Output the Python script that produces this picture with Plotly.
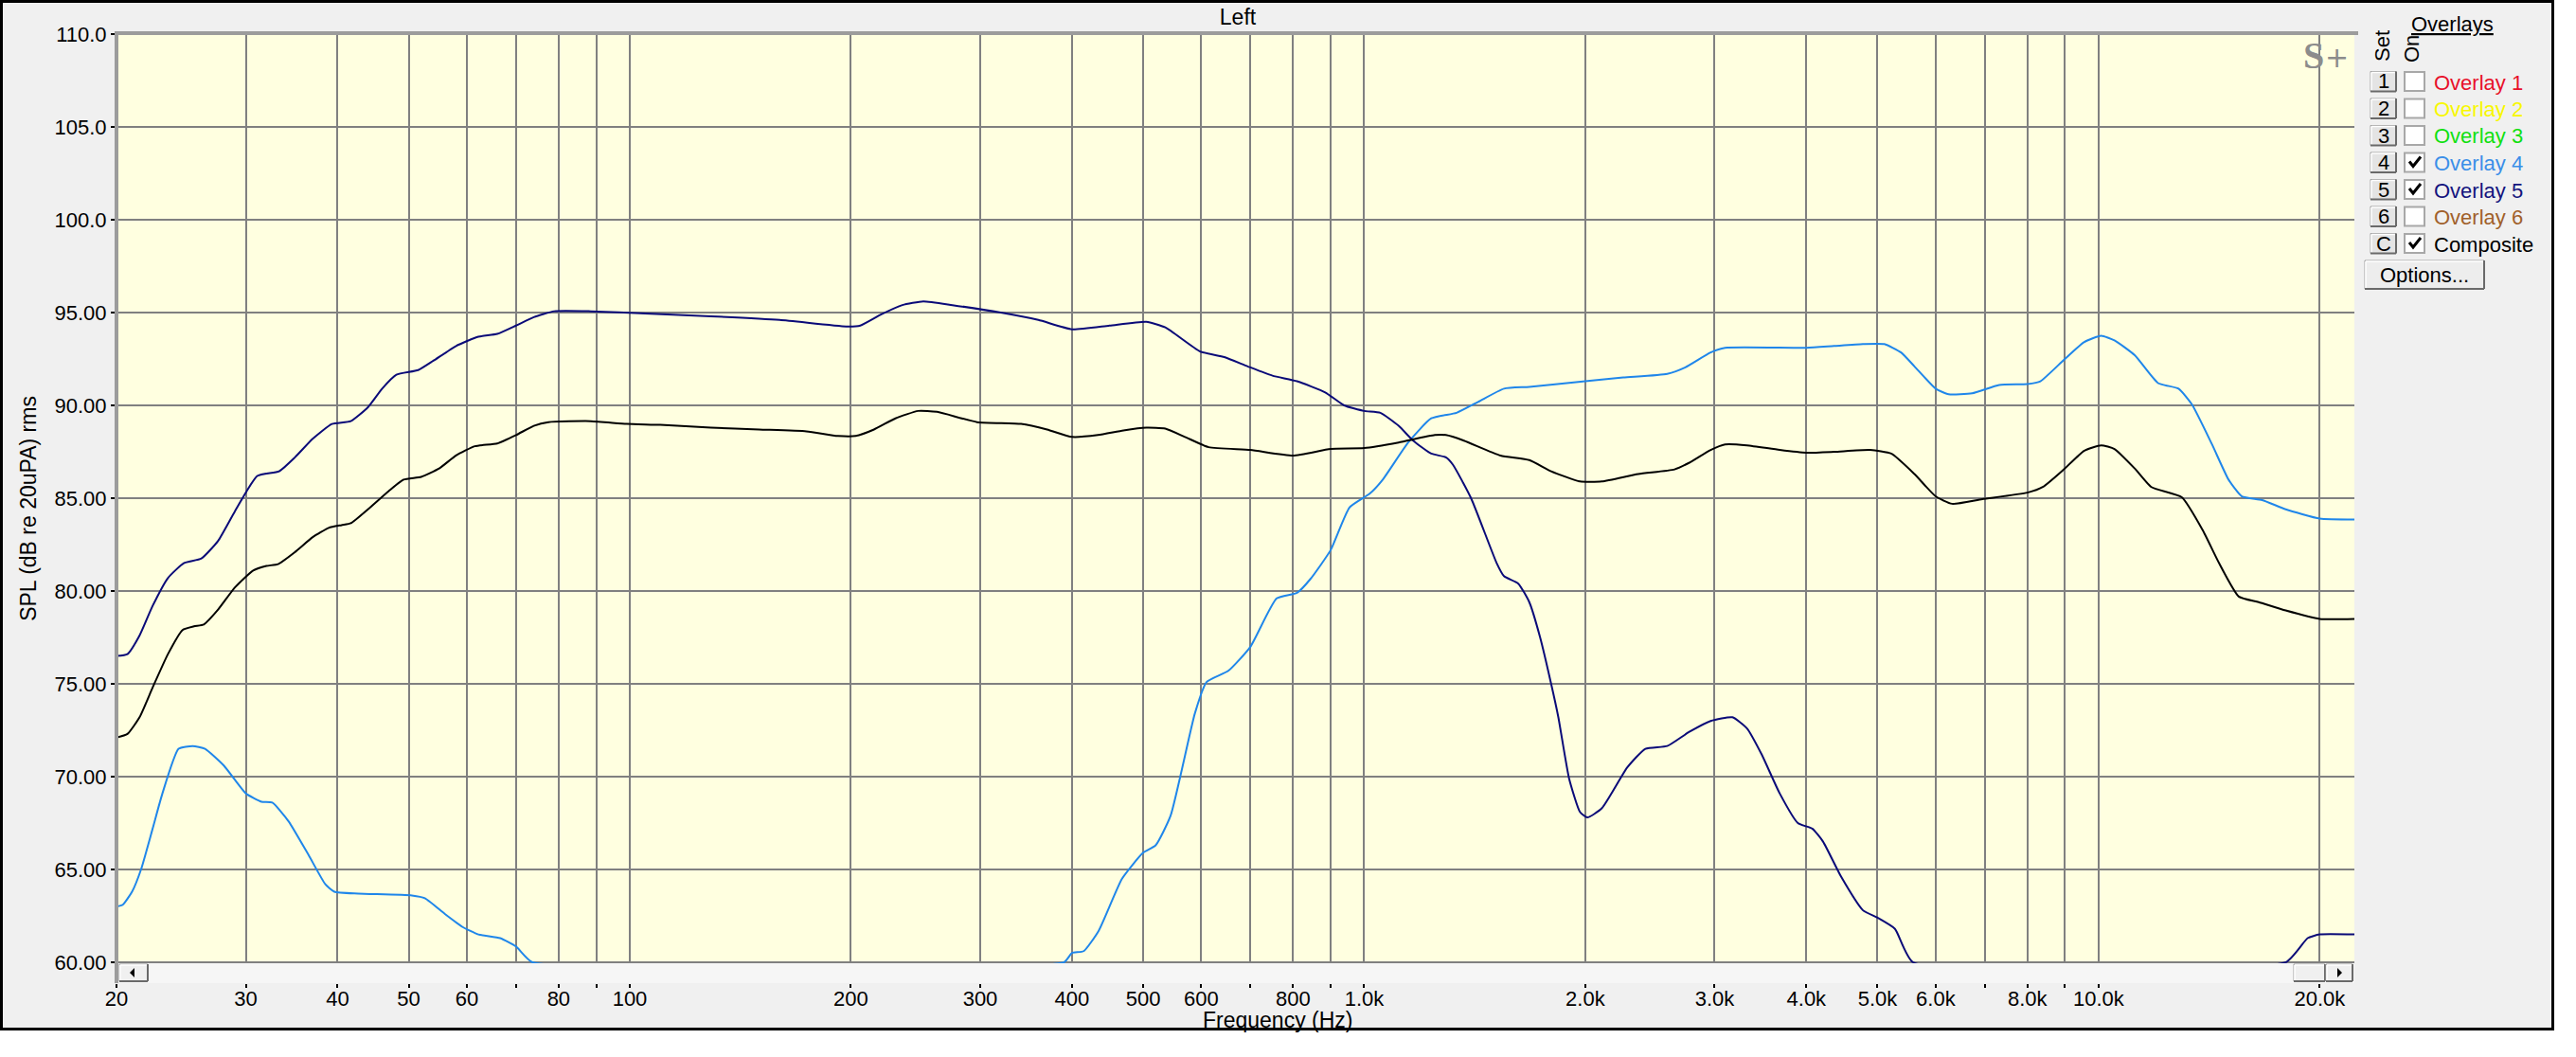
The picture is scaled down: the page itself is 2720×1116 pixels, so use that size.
import math
import plotly.graph_objects as go

# ---------------- data ----------------
composite_freq = [20, 20.7, 21.5, 22.4, 23.5, 24.6, 25.5, 26.3, 27.5, 29, 30.7, 32, 33.2, 35, 37, 38.9,
                  40.5, 41.7, 44, 47, 49.2, 52, 55, 58, 61.5, 66, 70, 74, 77.5, 88.5, 99, 110, 129,
                  150, 174, 192, 203, 215, 230, 247, 262, 297, 341, 370, 400, 434, 470, 505, 536,
                  570, 614, 700, 800, 900, 1000, 1114, 1248, 1292, 1367, 1533, 1678, 1797, 1967,
                  2107, 2361, 2646, 2768, 2963, 3100, 3321, 3679, 4000, 4364, 4885, 5220, 5614,
                  6000, 6317, 6943, 8000, 8395, 8968, 9551, 10080, 10510, 11200, 11800, 12980,
                  13850, 14590, 15520, 16520, 17980, 20000, 22300]
composite_spl = [72.1, 72.3, 73.2, 74.8, 76.6, 77.9, 78.1, 78.2, 79.0, 80.2, 81.1, 81.35, 81.45, 82.1,
                 82.9, 83.4, 83.55, 83.65, 84.4, 85.4, 86.0, 86.15, 86.6, 87.3, 87.8, 87.95, 88.4,
                 88.9, 89.1, 89.15, 89.0, 88.95, 88.8, 88.7, 88.6, 88.35, 88.35, 88.7, 89.3, 89.7,
                 89.65, 89.1, 89.0, 88.7, 88.3, 88.4, 88.65, 88.8, 88.75, 88.3, 87.75, 87.6, 87.3,
                 87.65, 87.7, 88.0, 88.4, 88.4, 88.1, 87.3, 87.05, 86.45, 85.9, 85.9, 86.3, 86.55,
                 86.9, 87.6, 87.9, 87.85, 87.6, 87.45, 87.5, 87.6, 87.4, 86.3, 85.1, 84.7, 84.95,
                 85.3, 85.6, 86.55, 87.55, 87.85, 87.65, 86.6, 85.6, 85.05, 83.3, 81.5, 79.7, 79.4,
                 78.95, 78.5, 78.5]

overlay5_freq = [20, 20.7, 21.5, 22.4, 23.5, 24.7, 26.1, 27.5, 29, 31.1, 33.3, 35, 37, 39.3, 41.7, 44,
                 46, 48.1, 51.5, 54, 58, 62.2, 66, 70, 74, 78.9, 88.5, 105, 129, 160, 197, 206, 220,
                 235, 251, 275, 320, 360, 400, 450, 505, 536, 598, 645, 694, 750, 810, 885, 939,
                 1000, 1052, 1114, 1166, 1234, 1292, 1321, 1398, 1515, 1550, 1621, 1678, 1736, 1797,
                 1838, 1901, 1967, 2013, 2107, 2282, 2415, 2586, 2768, 2963, 3172, 3321, 3477, 3679,
                 3895, 4075, 4215, 4462, 4777, 5000, 5281, 5590, 17980, 19260, 20000, 22300]
overlay5_spl = [76.5, 76.6, 77.6, 79.2, 80.7, 81.5, 81.75, 82.7, 84.3, 86.2, 86.45, 87.2, 88.2, 89.0,
                89.15, 89.9, 90.9, 91.65, 91.9, 92.4, 93.2, 93.7, 93.85, 94.3, 94.75, 95.07, 95.07,
                94.95, 94.8, 94.6, 94.25, 94.3, 94.9, 95.4, 95.6, 95.4, 95.0, 94.6, 94.1, 94.3, 94.5,
                94.2, 92.9, 92.6, 92.1, 91.6, 91.3, 90.7, 90.0, 89.7, 89.6, 88.9, 88.1, 87.4, 87.2,
                86.8, 85.0, 81.5, 80.8, 80.4, 79.4, 77.5, 75.0, 73.2, 69.9, 68.1, 67.8, 68.3, 70.5,
                71.5, 71.65, 72.4, 73.0, 73.2, 72.6, 71.2, 69.1, 67.5, 67.2, 66.5, 64.6, 62.8, 62.4,
                61.8, 60.0, 60.0, 61.3, 61.5, 61.5]

overlay4_freq = [20, 20.4, 21.0, 21.6, 22.4, 23.1, 24.3, 25.4, 26.4, 28.0, 30, 31.5, 32.6, 34.3, 36.5,
                 38.5, 39.6, 42.7, 50.5, 52.6, 56, 59.2, 62.2, 66.6, 70, 73.7, 390, 400, 415, 435, 468,
                 500, 520, 545, 588, 610, 653, 700, 760, 810, 845, 900, 955, 1018, 1060, 1148, 1234,
                 1336, 1431, 1550, 1678, 2000, 2253, 2586, 2737, 2963, 3100, 4000, 4364, 4777, 5108,
                 5383, 5614, 6000, 6249, 6726, 7321, 8000, 8332, 8968, 9551, 10080, 10510, 11200,
                 12050, 12850, 13400, 14270, 15030, 15670, 16700, 17980, 20000, 22300]
overlay4_spl = [63.0, 63.1, 63.8, 65.0, 67.2, 69.1, 71.5, 71.65, 71.5, 70.6, 69.1, 68.65, 68.6, 67.6,
                65.8, 64.2, 63.8, 63.7, 63.6, 63.45, 62.6, 61.9, 61.5, 61.3, 60.85, 60.0, 60.0, 60.5,
                60.6, 61.7, 64.5, 65.9, 66.3, 67.9, 73.4, 75.1, 75.7, 77.0, 79.6, 79.9, 80.65, 82.2,
                84.5, 85.25, 86.0, 88.0, 89.3, 89.6, 90.2, 90.9, 91.0, 91.3, 91.5, 91.7, 92.05, 92.85,
                93.1, 93.1, 93.2, 93.3, 93.3, 92.85, 92.1, 90.9, 90.6, 90.65, 91.1, 91.15, 91.3, 92.45,
                93.4, 93.75, 93.5, 92.7, 91.2, 90.9, 90.05, 87.9, 86.0, 85.1, 84.9, 84.4, 83.9, 83.85]

x_tick_vals = [20, 30, 40, 50, 60, 70, 80, 90, 100, 200, 300, 400, 500, 600, 700, 800, 900,
               1000, 2000, 3000, 4000, 5000, 6000, 7000, 8000, 9000, 10000, 20000]
x_tick_text = ["20", "30", "40", "50", "60", "", "80", "", "100", "200", "300", "400", "500",
               "600", "", "800", "", "1.0k", "2.0k", "3.0k", "4.0k", "5.0k", "6.0k", "", "8.0k",
               "", "10.0k", "20.0k"]
y_tick_vals = [60, 65, 70, 75, 80, 85, 90, 95, 100, 105, 110]
y_tick_text = ["60.00", "65.00", "70.00", "75.00", "80.00", "85.00", "90.00", "95.00",
               "100.0", "105.0", "110.0"]

legend_names = ["Overlay 1", "Overlay 2", "Overlay 3", "Overlay 4", "Overlay 5", "Overlay 6", "Composite"]
legend_keys = ["1", "2", "3", "4", "5", "6", "C"]
legend_on = [False, False, False, True, True, False, True]
legend_colors = ["#E8102A", "#F8F800", "#10E010", "#3A8EE8", "#14147E", "#A0602A", "#000000"]

# ---------------- geometry ----------------
W_PX, H_PX = 2720, 1116
L, R, T, PB = 123, 2486, 36, 1038
PW, PH = R - L, PB - T
Y_BOTTOM_VAL = 60 - (PB - 1016) / (980 / 50)


def X(px):
    return (px - L) / PW


def Y(py):
    return (PB - py) / PH


FONT = "Liberation Sans, Arial, sans-serif"

fig = go.Figure()
fig.add_trace(go.Scatter(x=overlay4_freq, y=overlay4_spl, mode="lines", name="Overlay 4",
                         line=dict(color="#1F86EA", width=2, shape="spline", smoothing=0.5)))
fig.add_trace(go.Scatter(x=overlay5_freq, y=overlay5_spl, mode="lines", name="Overlay 5",
                         line=dict(color="#0A0A78", width=2, shape="spline", smoothing=0.5)))
fig.add_trace(go.Scatter(x=composite_freq, y=composite_spl, mode="lines", name="Composite",
                         line=dict(color="#000000", width=2, shape="spline", smoothing=0.5)))

shapes = []


def rect(x0, y0, x1, y1, fill=None, line=None, lw=0, layer="above"):
    d = dict(type="rect", xref="paper", yref="paper", x0=X(x0), x1=X(x1), y0=Y(y1), y1=Y(y0),
             layer=layer, line=dict(width=lw, color=line or "rgba(0,0,0,0)"))
    if fill:
        d["fillcolor"] = fill
    shapes.append(d)


def seg(x0, y0, x1, y1, color, lw, layer="above"):
    shapes.append(dict(type="line", xref="paper", yref="paper", x0=X(x0), x1=X(x1),
                       y0=Y(y0), y1=Y(y1), layer=layer, line=dict(color=color, width=lw)))


def poly(pts, fill=None, color="#000", lw=0, closed=True):
    p = "M " + " L ".join(f"{X(a):.6f},{Y(b):.6f}" for a, b in pts) + (" Z" if closed else "")
    d = dict(type="path", xref="paper", yref="paper", path=p, layer="above",
             line=dict(color=color, width=lw))
    if fill:
        d["fillcolor"] = fill
    shapes.append(d)


def button(x0, y0, x1, y1, face="#E6E6E6"):
    rect(x0, y0, x1, y1, fill=face, line="#A0A0A0", lw=1)
    seg(x0 + 1, y0 + 1, x1 - 1, y0 + 1, "#FFFFFF", 1.5)
    seg(x0 + 1, y0 + 1, x0 + 1, y1 - 1, "#FFFFFF", 1.5)
    seg(x0, y1, x1, y1, "#6A6A6A", 2)
    seg(x1, y0, x1, y1, "#6A6A6A", 2)


# bottom navy base line at 60 dB
seg(L, 1016, R, 1016, "#0A0A78", 2, layer="below")
# scrollbar
rect(L, 1017, R, 1038, fill="#F6F6F6")
button(126, 1018, 156, 1036, face="#F0F0F0")
poly([(137, 1027), (142, 1022), (142, 1032)], fill="#000", color="#000", lw=0)
button(2422, 1018, 2455, 1036, face="#F0F0F0")
button(2456, 1018, 2484, 1036, face="#F0F0F0")
poly([(2473, 1027), (2468, 1022), (2468, 1032)], fill="#000", color="#000", lw=0)
# plot gray frame (top / left)
rect(121, 33, 2490, 37, fill="#9C9C9C")
rect(121, 33, 125, 1038, fill="#9C9C9C")
# outside of the window: white, window border black
rect(2697, -10, 2735, 1130, fill="#FFFFFF")
rect(-10, 1088, 2735, 1130, fill="#FFFFFF")
rect(1.5, 1.5, 2695.5, 1086.5, line="#000000", lw=3)

annotations = []


def text(px, py, s, size=22, color="#000", xanchor="center", angle=0, family=FONT):
    annotations.append(dict(xref="paper", yref="paper", x=X(px), y=Y(py), text=s, showarrow=False,
                            xanchor=xanchor, yanchor="middle", textangle=angle,
                            font=dict(family=family, size=size, color=color)))


# legend / overlay panel
text(2589, 25, "<u>Overlays</u>", 22)
text(2515, 49, "Set", 22, angle=-90)
text(2547, 52, "On", 22, angle=-90)
for i, (k, name, on, col) in enumerate(zip(legend_keys, legend_names, legend_on, legend_colors)):
    cy = 86 + 28.5 * i
    button(2503, cy - 10.5, 2530, cy + 10.5, face="#E4E4E4")
    text(2516.5, cy, k, 22)
    rect(2539, cy - 10, 2560, cy + 10, fill="#FFFFFF", line="#A8A8A8", lw=2)
    if on:
        poly([(2544, cy - 1), (2548, cy + 4), (2556, cy - 6)], color="#000", lw=3, closed=False)
    text(2568, cy + 1, name, 22, color=col, xanchor="left")
button(2497, 275, 2623, 305, face="#EDEDED")
text(2560, 290, "Options...", 22)

# logo
text(2443, 58, "<b>S</b>", 40, color="#8C8C8C", family="Liberation Serif, DejaVu Serif, serif")
text(2467, 61, "+", 30, color="#8C8C8C", family="DejaVu Sans, sans-serif")

# x axis title
text(1349, 1077, "Frequency (Hz)", 23)

fig.update_layout(
    width=W_PX, height=H_PX,
    margin=dict(l=L, r=W_PX - R, t=T, b=H_PX - PB, pad=0),
    paper_bgcolor="#F0F0F0", plot_bgcolor="#FFFFE0",
    showlegend=False,
    font=dict(family=FONT, size=22, color="#000"),
    title=dict(text="Left", x=X(1307), xref="paper", xanchor="center",
               y=1 - 18 / H_PX, yref="container", yanchor="middle",
               font=dict(family=FONT, size=23, color="#000")),
    xaxis=dict(type="log", range=[math.log10(20), math.log10(22300)],
               tickmode="array", tickvals=x_tick_vals, ticktext=x_tick_text,
               ticks="outside", ticklen=4, tickwidth=2, tickcolor="#000",
               ticklabelstandoff=-7,
               showgrid=True, gridcolor="#808080", gridwidth=2,
               zeroline=False, showline=False,
               tickfont=dict(family=FONT, size=22, color="#000")),
    yaxis=dict(range=[Y_BOTTOM_VAL, 110], tickmode="array", tickvals=y_tick_vals,
               ticktext=y_tick_text, ticks="outside", ticklen=5, tickwidth=2, tickcolor="#000",
               showgrid=True, gridcolor="#808080", gridwidth=2, zeroline=False, showline=False,
               tickfont=dict(family=FONT, size=22, color="#000"),
               title=dict(text="SPL (dB re 20uPA) rms", standoff=12,
                          font=dict(family=FONT, size=23, color="#000"))),
    shapes=shapes, annotations=annotations,
)

fig.write_html(
    "out.html",
    config={"displayModeBar": False},
    post_script="document.body.style.margin='0px';document.body.style.padding='0px';"
                "document.body.style.overflow='hidden';",
)
